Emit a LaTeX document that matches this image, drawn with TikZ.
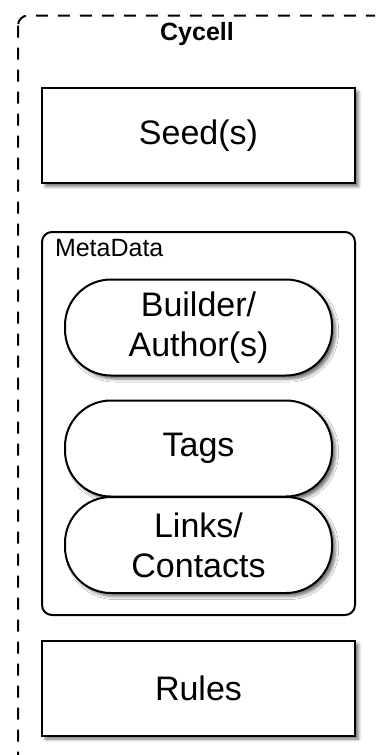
\documentclass[tikz,border=0pt]{standalone}
\usepackage{fontspec}
\setmainfont{Liberation Sans}
\usetikzlibrary{shadows.blur}
\begin{document}
\begin{tikzpicture}[x=1pt,y=1pt,
  line width=2pt,
  shad/.style={blur shadow={shadow xshift=3.5pt,shadow yshift=-3.5pt,shadow blur radius=3pt,shadow opacity=55}},
  boxn/.style={draw,fill=white,shad,minimum width=313pt,minimum height=95pt,inner sep=0pt,font=\fontsize{34}{40}\selectfont,align=center},
  pill/.style={draw,fill=white,shad,rounded corners=46pt,minimum width=267pt,minimum height=96pt,inner sep=0pt,font=\fontsize{34}{40}\selectfont,align=center},
  ]
\useasboundingbox (0,0) rectangle (375,-755);
\clip (0,0) rectangle (375,-755);
\draw[dash pattern=on 12pt off 10pt, rounded corners=10pt] (18,-15.5) rectangle (390,-770);
\node[font=\bfseries\fontsize{25}{28}\selectfont] (cyc) at (197,-34) {Cycell};
\node[boxn] (seed) at (198.5,-135.5) {Seed(s)};
\node[draw,fill=white,rounded corners=10pt,minimum width=313pt,minimum height=383pt,inner sep=0pt] (meta) at (198.5,-423.5) {};
\node[anchor=north west,inner sep=0pt,font=\fontsize{25}{28}\selectfont] (metal) at (54,-238) {MetaData};
\node[pill] (build) at (198.5,-327.5) {Builder/\\Author(s)};
\node[pill] (tags) at (198.5,-448.5) {Tags};
\node[pill] (links) at (198.5,-545) {Links/\\Contacts};
\node[boxn] (rules) at (198.5,-688) {Rules};
\end{tikzpicture}
\end{document}
